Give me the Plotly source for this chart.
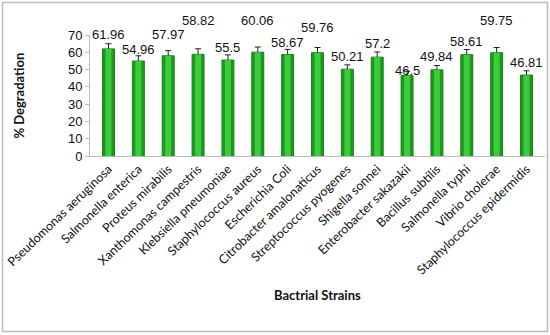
import plotly.graph_objects as go

strains = ["Pseudomonas aeruginosa", "Salmonella enterica", "Proteus mirabilis",
           "Xanthomonas campestris", "Klebsiella pneumoniae", "Staphylococcus aureus",
           "Escherichia Coli", "Citrobacter amalonaticus", "Streptococcus pyogenes",
           "Shigella sonnei", "Enterobacter sakazakii", "Bacillus subtilis",
           "Salmonella typhi", "Vibrio cholerae", "Staphylococcus epidermidis"]
degradation = [61.96, 54.96, 57.97, 58.82, 55.5, 60.06, 58.67, 59.76, 50.21,
               57.2, 46.5, 49.84, 58.61, 59.75, 46.81]
errors = [3.0, 3.0, 3.0, 3.2, 3.0, 3.0, 3.0, 3.0, 2.5, 3.0, 2.5, 2.5, 3.0, 3.0, 2.5]
y_ticks = [0, 10, 20, 30, 40, 50, 60, 70]

# label lift above bar end (px) - styling only
label_lift = [14, 12, 21, 34, 13, 32, 12, 25, 13, 14, 5, 13, 13, 32, 13]

fig = go.Figure()
fig.add_trace(go.Bar(
    x=strains, y=degradation, width=0.4,
    marker=dict(color="#1C9A1C", line=dict(color="#168016", width=1)),
    error_y=dict(type="data", array=errors, color="#222222", thickness=1, width=3),
    showlegend=False, hoverinfo="skip"))
fig.add_trace(go.Bar(
    x=strains, y=degradation, width=0.2,
    marker=dict(color="#3CCB3C", line=dict(width=0)),
    showlegend=False, hoverinfo="skip"))

for s, v, lift in zip(strains, degradation, label_lift):
    fig.add_annotation(x=s, y=v, text=str(v), showarrow=False, xref="x", yref="y",
                       yanchor="middle", yshift=lift,
                       font=dict(family="Liberation Sans", size=13, color="#111111"))

fig.add_annotation(xref="paper", yref="paper", x=0.5, y=-1.149, text="<b>Bactrial Strains</b>",
                   showarrow=False, xanchor="center", yanchor="middle",
                   font=dict(family="Lato", size=13, color="#111111"))
fig.add_annotation(xref="paper", yref="paper", x=-0.158, y=0.5, text="<b>% Degradation</b>",
                   showarrow=False, textangle=-90, xanchor="center", yanchor="middle",
                   font=dict(family="Lato", size=13, color="#111111"))

fig.add_shape(type="rect", xref="paper", yref="paper", x0=-0.1923, x1=1.0055,
              y0=-1.4504, y1=1.2686, line=dict(color="#BBBBBB", width=1.5))

fig.update_layout(
    width=550, height=335, barmode="overlay",
    margin=dict(l=90, r=5, t=35, b=179),
    paper_bgcolor="white", plot_bgcolor="white",
    xaxis=dict(tickangle=-44, showline=True, linecolor="#BBBBBB", linewidth=1,
               ticks="", showgrid=False,
               tickfont=dict(family="Lato", size=12.5, color="#111111")),
    yaxis=dict(range=[0, 70], tickvals=y_ticks, showline=True, linecolor="#BBBBBB",
               linewidth=1, ticks="outside", ticklen=4, tickcolor="#BBBBBB",
               showgrid=False, zeroline=False,
               tickfont=dict(family="Liberation Sans", size=13, color="#111111")),
)
fig.write_html("out.html", config={"displayModeBar": False},
               post_script="document.body.style.margin='0';document.body.style.overflow='hidden';")
